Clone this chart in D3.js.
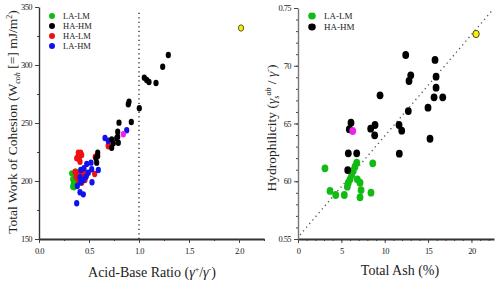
<!DOCTYPE html>
<html>
<head>
<meta charset="utf-8">
<script src="https://cdn.jsdelivr.net/npm/d3@7"></script>
<style>
  body { margin: 0; background: #fff; }
  svg text { font-family: "Liberation Serif", "Times New Roman", serif; fill: #222; }
</style>
</head>
<body>
<svg id="chart" width="500" height="282"></svg>
<script>
// ---- left panel data: acid-base ratio vs work of cohesion ----
const leftGreen = [[0.327,206.6],[0.37,208],[0.35,204.3],[0.337,201.5],[0.36,199.4],[0.343,197.4],[0.35,194.6],[0.383,203.7],[0.393,198],[0.337,195.1]];
const leftBlack = [[1.293,308.6],[1.237,298.5],[1.053,289.1],[1.077,287.1],[1.10,285.3],[1.17,284.5],[0.90,268.4],[0.893,266.1],[1.003,262.7],
  [0.923,250.9],[0.80,250.3],[0.787,242.5],[0.787,238.2],[0.777,236.8],[0.727,235.9],[0.793,233],[0.727,228.7],[0.743,232.5],
  [0.587,224.4],[0.587,221.6],[0.57,219.6],[0.577,215.8]];
const leftRed = [[0.693,230],[0.693,231],[0.563,221],[0.557,206],[0.393,224.4],[0.417,224.4],[0.393,221.6],[0.427,222.4],[0.403,218.7],
  [0.41,216.6],[0.377,219.6],[0.46,207.2],[0.477,205.2],[0.437,205.2],[0.393,206.6],[0.36,208],[0.37,203.7],[0.443,203.2],
  [0.393,200.9],[0.46,200.9],[0.427,198.5]];
const leftBlue = [[0.877,243.7],[0.66,237.1],[0.693,234.7],[0.52,215.8],[0.477,214.7],[0.45,211],[0.417,209.5],[0.493,207.2],[0.527,210.1],
  [0.593,209.5],[0.47,203.7],[0.41,203.2],[0.443,200.9],[0.53,198.9],[0.417,198.9],[0.383,195.7],[0.41,190.3],[0.443,188.5],[0.377,180.8]];
const leftMagenta = [[0.843,240.3]];
const leftYellow = [[2.02,331.9]];
const leftXTicks = [0, 0.5, 1.0, 1.5, 2.0];
const leftXTickLabels = ["0.0", "0.5", "1.0", "1.5", "2.0"];
const leftYTicks = [150, 200, 250, 300, 350];
const leftYTickLabels = ["150", "200", "250", "300", "350"];
const leftVLine = [[1.0, 150], [1.0, 346]];
const leftLegend = ["LA-LM", "HA-HM", "HA-LM", "LA-HM"];

// ---- right panel data: total ash vs hydrophilicity ----
const rightGreen = [[3.11,0.6112],[6.77,0.6161],[6.57,0.6126],[6.38,0.6091],[6.19,0.6054],[6.0,0.6017],[5.8,0.5987],[6.84,0.6017],
  [7.15,0.5987],[5.69,0.5953],[8.62,0.6155],[3.69,0.5916],[4.35,0.5881],[5.34,0.5881],[7.27,0.5924],[7.15,0.5861],[8.42,0.5901]];
const rightBlack = [[12.42,0.7093],[15.8,0.705],[13.0,0.6917],[12.8,0.6868],[15.92,0.6905],[15.92,0.681],[15.69,0.6727],[16.69,0.6727],
  [9.46,0.6744],[12.72,0.6608],[14.99,0.6637],[6.11,0.6507],[5.92,0.645],[8.88,0.6487],[8.38,0.6455],[8.84,0.6398],[11.65,0.6487],
  [11.96,0.6438],[15.22,0.6368],[5.80,0.6242],[6.77,0.6242],[5.73,0.6097],[11.68,0.6239]];
const rightMagenta = [[6.31,0.6435]];
const rightYellow = [[20.53,0.7275]];
const rightXTicks = [0, 5, 10, 15, 20];
const rightXTickLabels = ["0", "5", "10", "15", "20"];
const rightYTicks = [0.55, 0.60, 0.65, 0.70, 0.75];
const rightYTickLabels = ["0.55", "60", "65", "70", "0.75"];
const rightFitLine = [[0.23, 0.5535], [22.4, 0.748]];
const rightLegend = ["LA-LM", "HA-HM"];

const svg = d3.select("#chart");

function drawAxes(p) {
  let g = svg.append("g");
  // minor ticks
  g.append("g").attr("transform", `translate(0,${p.y.range()[0]})`)
    .call(d3.axisBottom(p.x).tickValues(p.xMinor).tickSize(2).tickFormat(""))
    .call(a => a.select(".domain").remove());
  g.append("g").attr("transform", `translate(${p.x.range()[0]},0)`)
    .call(d3.axisLeft(p.y).tickValues(p.yMinor).tickSize(2).tickFormat(""))
    .call(a => a.select(".domain").remove());
  // major ticks
  let xa = g.append("g").attr("transform", `translate(0,${p.y.range()[0]})`)
    .call(d3.axisBottom(p.x).tickValues(p.xTicks).tickSize(4).tickSizeOuter(0)
      .tickFormat((d, i) => p.xLabels[i]));
  let ya = g.append("g").attr("transform", `translate(${p.x.range()[0]},0)`)
    .call(d3.axisLeft(p.y).tickValues(p.yTicks).tickSize(4).tickSizeOuter(0)
      .tickFormat((d, i) => p.yLabels[i]));
  g.selectAll("line").attr("stroke", "#444");
  xa.select(".domain").attr("stroke", "#333").attr("stroke-width", 2);
  ya.select(".domain").attr("stroke", p.yAxisColor).attr("stroke-width", 1.4);
  g.selectAll("text").attr("font-size", 8.5).attr("letter-spacing", "-0.6px").attr("fill", "#333")
    .style("font-family", "'Liberation Serif', serif");
  xa.selectAll("text").attr("dy", "0.9em");
}

function drawPoints(p, data, fill, rx, ry, stroke) {
  svg.append("g").selectAll("ellipse").data(data).join("ellipse")
    .attr("cx", d => p.x(d[0]))
    .attr("cy", d => p.y(d[1]))
    .attr("rx", rx).attr("ry", ry)
    .attr("fill", fill)
    .attr("stroke", stroke || "none")
    .attr("stroke-width", stroke ? 0.8 : 0);
}

// ---------- left panel ----------
const L = {
  x: d3.scaleLinear().domain([0, 2.25]).range([39, 264]),
  y: d3.scaleLinear().domain([150, 350]).range([239, 7]),
  xTicks: leftXTicks, xLabels: leftXTickLabels,
  yTicks: leftYTicks, yLabels: leftYTickLabels,
  xMinor: d3.range(0.25, 2.3, 0.5), yMinor: [175, 225, 275, 325],
  yAxisColor: "#333"
};
drawAxes(L);

svg.append("path").datum(leftVLine)
  .attr("fill", "none").attr("stroke", "#222").attr("stroke-width", 1.3)
  .attr("stroke-dasharray", "1.3,3.2")
  .attr("d", d3.line().x(d => L.x(d[0])).y(d => L.y(d[1])));

drawPoints(L, leftGreen, "#11bb11", 2.6, 3.2);
drawPoints(L, leftRed, "#ee1111", 2.6, 3.2);
drawPoints(L, leftBlue, "#1111ee", 2.6, 3.2);
drawPoints(L, leftBlack, "#000", 2.6, 3.2);
drawPoints(L, leftMagenta, "#ee22ee", 2.6, 3.2);
drawPoints(L, leftYellow, "#ffee00", 2.6, 3.2, "#333");

const leftColors = ["#11bb11", "#000", "#ee1111", "#1111ee"];
leftLegend.forEach((name, i) => {
  svg.append("circle").attr("cx", 52).attr("cy", 16 + i * 10).attr("r", 3).attr("fill", leftColors[i]);
  svg.append("text").attr("x", 63).attr("y", 19 + i * 10).attr("font-size", 8.5).text(name);
});

let ly = svg.append("text").attr("transform", "translate(17,122) rotate(-90)")
  .attr("text-anchor", "middle").attr("font-size", 13.5);
ly.append("tspan").text("Total Work of Cohesion (W");
ly.append("tspan").attr("font-size", 8).attr("font-style", "italic").attr("dy", 3).text("coh");
ly.append("tspan").attr("dy", -3).text(" [=] mJ/m");
ly.append("tspan").attr("font-size", 8).attr("dy", -5).text("2");
ly.append("tspan").attr("dy", 5).text(")");

let lx = svg.append("text").attr("x", 152).attr("y", 277)
  .attr("text-anchor", "middle").attr("font-size", 14);
lx.append("tspan").text("Acid-Base Ratio (");
lx.append("tspan").attr("font-style", "italic").text("γ");
lx.append("tspan").attr("font-size", 8).attr("dy", -5).text("+");
lx.append("tspan").attr("dy", 5).text("/");
lx.append("tspan").attr("font-style", "italic").text("γ");
lx.append("tspan").attr("font-size", 8).attr("dy", -5).text("-");
lx.append("tspan").attr("dy", 5).text(")");

// ---------- right panel ----------
const R = {
  x: d3.scaleLinear().domain([0, 22.6]).range([298, 494]),
  y: d3.scaleLinear().domain([0.55, 0.75]).range([239, 8]),
  xTicks: rightXTicks, xLabels: rightXTickLabels,
  yTicks: rightYTicks, yLabels: rightYTickLabels,
  xMinor: d3.range(1, 23, 1), yMinor: d3.range(0.56, 0.75, 0.01),
  yAxisColor: "#777"
};
drawAxes(R);

svg.append("path").datum(rightFitLine)
  .attr("fill", "none").attr("stroke", "#555").attr("stroke-width", 1.3)
  .attr("stroke-dasharray", "1.3,3.5")
  .attr("d", d3.line().x(d => R.x(d[0])).y(d => R.y(d[1])));

drawPoints(R, rightGreen, "#11bb11", 3.4, 3.9);
drawPoints(R, rightBlack, "#000", 3.4, 3.9);
drawPoints(R, rightMagenta, "#ee22ee", 3.4, 3.9);
drawPoints(R, rightYellow, "#ffee00", 3.2, 3.7, "#222");

const rightColors = ["#11bb11", "#000"];
rightLegend.forEach((name, i) => {
  svg.append("ellipse").attr("cx", 312).attr("cy", 16 + i * 11).attr("rx", 3.8).attr("ry", 3.4).attr("fill", rightColors[i]);
  svg.append("text").attr("x", 324).attr("y", 19 + i * 11).attr("font-size", 9).text(name);
});

let ry = svg.append("text").attr("transform", "translate(276,128) rotate(-90)")
  .attr("text-anchor", "middle").attr("font-size", 13.5);
ry.append("tspan").text("Hydrophilicity (");
ry.append("tspan").attr("font-style", "italic").text("γ");
ry.append("tspan").attr("font-size", 8).attr("font-style", "italic").attr("dy", 3).text("s");
ry.append("tspan").attr("font-size", 8).attr("font-style", "italic").attr("dy", -8).text("ab");
ry.append("tspan").attr("dy", 5).text(" / ");
ry.append("tspan").attr("font-style", "italic").text("γ");
ry.append("tspan").attr("font-size", 8).attr("dy", -5).text("-");
ry.append("tspan").attr("dy", 5).text(")");

svg.append("text").attr("x", 400).attr("y", 275)
  .attr("text-anchor", "middle").attr("font-size", 14).text("Total Ash (%)");
</script>
</body>
</html>
